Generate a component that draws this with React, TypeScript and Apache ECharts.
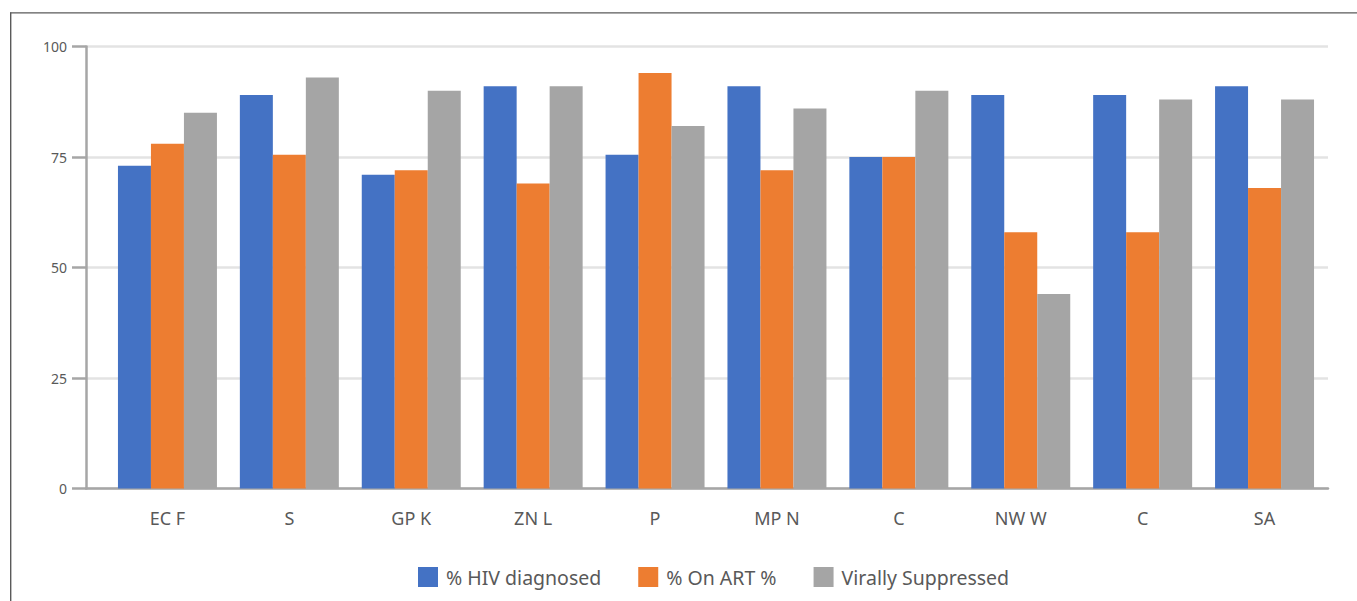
import React, { useEffect, useRef } from "react";
import * as echarts from "echarts";

const categories = ["EC F", "S", "GP K", "ZN L", "P", "MP N", "C", "NW W", "C", "SA"];
const hivDiagnosed = [73, 89, 71, 91, 75.5, 91, 75, 89, 89, 91];
const onArt = [78, 75.5, 72, 69, 94, 72, 75, 58, 58, 68];
const viralSuppressed = [85, 93, 90, 91, 82, 86, 90, 44, 88, 88];
const seriesNames = ["% HIV diagnosed", "% On ART %", "Virally Suppressed"];
const colors = ["#4472c4", "#ed7d31", "#a5a5a5"];

export default function App() {
  const ref = useRef<HTMLDivElement>(null);
  useEffect(() => {
    if (!ref.current) return;
    const chart = echarts.init(ref.current, null, { renderer: "svg" });
    const font = "'Noto Sans', sans-serif";
    const values = [hivDiagnosed, onArt, viralSuppressed];
    chart.setOption({
      animation: false,
      backgroundColor: "#ffffff",
      color: colors,
      textStyle: { fontFamily: font },
      grid: [
        { left: 86, right: 29, top: 46.5, bottom: 112.5, containLabel: false },
        { left: 106.5, right: 31.5, top: 46.5, bottom: 112.5, containLabel: false },
      ],
      legend: {
        left: 418,
        top: 567,
        padding: 0,
        itemWidth: 20,
        itemHeight: 20,
        itemGap: 37,
        icon: "rect",
        textStyle: { fontFamily: font, fontSize: 19.5, color: "#595959", padding: [0, 0, 0, 3] },
        data: seriesNames,
      },
      xAxis: [
        {
          gridIndex: 0,
          type: "value",
          min: 0,
          max: 1,
          axisLine: { show: true, lineStyle: { color: "#a6a6a6", width: 2.5 } },
          axisTick: { show: false },
          axisLabel: { show: false },
          splitLine: { show: false },
        },
        {
          gridIndex: 1,
          type: "category",
          data: categories,
          axisLine: { show: false },
          axisTick: { show: false },
          axisLabel: { color: "#595959", fontSize: 18, margin: 20, fontFamily: font },
          splitLine: { show: false },
        },
      ],
      yAxis: [
        {
          gridIndex: 0,
          type: "value",
          min: 0,
          max: 100,
          interval: 25,
          axisLine: { show: true, lineStyle: { color: "#a6a6a6", width: 2.5 } },
          axisTick: { show: true, length: 14, lineStyle: { color: "#a6a6a6", width: 2.5 } },
          axisLabel: { color: "#595959", fontSize: 14, margin: 19, fontFamily: font },
          splitLine: { show: true, lineStyle: { color: "#e3e3e3", width: 2.5 } },
        },
        {
          gridIndex: 1,
          type: "value",
          min: 0,
          max: 100,
          interval: 25,
          axisLine: { show: false },
          axisTick: { show: false },
          axisLabel: { show: false },
          splitLine: { show: false },
        },
      ],
      series: seriesNames.map((name, i) => ({
        name,
        type: "bar",
        xAxisIndex: 1,
        yAxisIndex: 1,
        data: values[i],
        barGap: "0%",
        barCategoryGap: "18.8%",
        itemStyle: { color: colors[i] },
      })),
      graphic: [
        {
          type: "line",
          shape: { x1: 10.7, y1: 12.5, x2: 10.7, y2: 601 },
          style: { stroke: "#5a5a5a", lineWidth: 1.4 },
        },
        {
          type: "line",
          shape: { x1: 10, y1: 12.9, x2: 1357, y2: 12.9 },
          style: { stroke: "#5a5a5a", lineWidth: 1.4 },
        },
      ],
    });
    return () => chart.dispose();
  }, []);
  return (
    <div
      ref={ref}
      style={{ position: "absolute", left: 0, top: 0, width: 1357, height: 601 }}
    />
  );
}
